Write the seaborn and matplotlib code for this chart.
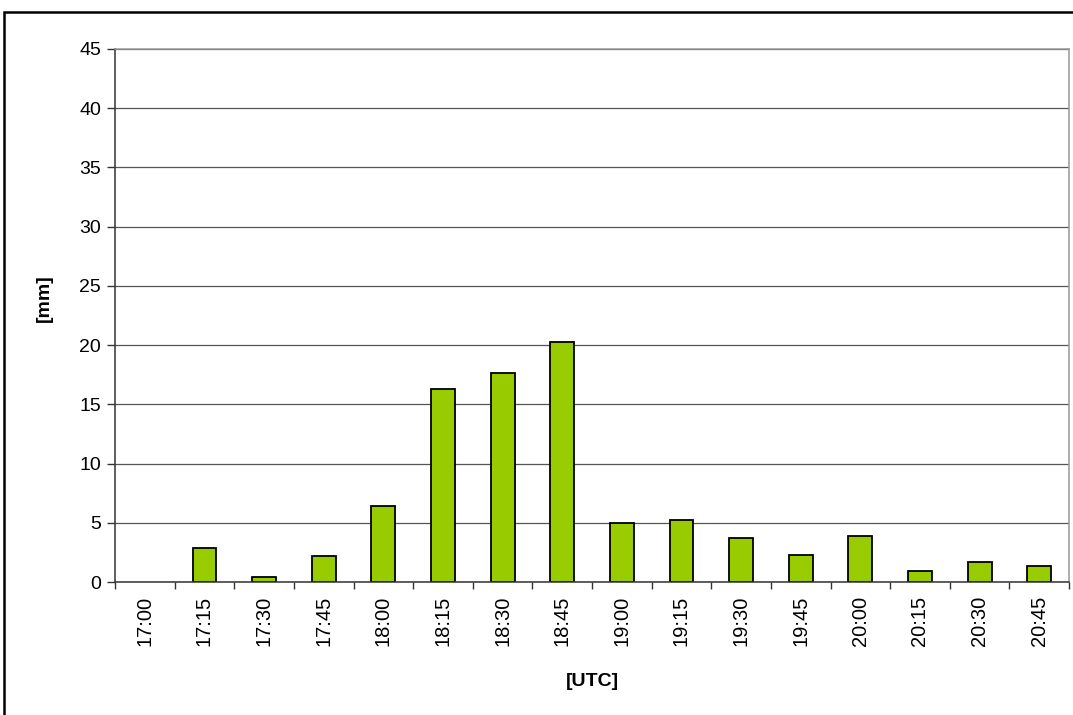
import numpy as np
import pandas as pd
import matplotlib
matplotlib.use("Agg")
import matplotlib.pyplot as plt
import seaborn as sns
from matplotlib.patches import Rectangle

times = ["17:00", "17:15", "17:30", "17:45", "18:00", "18:15", "18:30", "18:45",
         "19:00", "19:15", "19:30", "19:45", "20:00", "20:15", "20:30", "20:45"]
rain_mm = [0.0, 2.85, 0.45, 2.2, 6.4, 16.3, 17.65, 20.3,
           4.95, 5.25, 3.75, 2.25, 3.9, 0.9, 1.65, 1.35]
y_ticks = [0, 5, 10, 15, 20, 25, 30, 35, 40, 45]

sns.set_theme(style="white")
plt.rcParams['font.family'] = ['Liberation Sans', 'DejaVu Sans']
plt.rcParams['text.color'] = 'black'
plt.rcParams['xtick.color'] = 'black'
plt.rcParams['ytick.color'] = 'black'
plt.rcParams['axes.labelcolor'] = 'black'

df = pd.DataFrame({"time": times, "mm": rain_mm})

fig = plt.figure(figsize=(10.73, 7.15), dpi=100)
ax = fig.add_axes([0.1072, 0.186, 0.8891, 0.7455])

sns.barplot(data=df, x="time", y="mm", color="#99CC00", edgecolor="black",
            linewidth=1.3, width=0.4, saturation=1, ax=ax)
# no outline for empty intervals
for p in ax.patches:
    if p.get_height() == 0:
        p.set_linewidth(0)

ax.set_ylim(0, 45)
ax.set_xlim(-0.5, len(times) - 0.5)
ax.set_yticks(y_ticks)
ax.set_yticklabels([str(v) for v in y_ticks], fontsize=14)
ax.yaxis.grid(True, color="#555555", linewidth=0.9)
ax.set_axisbelow(True)

# ticks between the categories, labels under the bars
ax.set_xticks(np.arange(-0.5, len(times), 1))
ax.set_xticklabels([])
ax.set_xticks(range(len(times)), minor=True)
ax.set_xticklabels(times, minor=True, rotation=90, fontsize=14.5)
ax.tick_params(axis="x", which="major", direction="out", length=5, width=1, color="#333333", bottom=True)
ax.tick_params(axis="x", which="minor", length=0, pad=10, bottom=True)
ax.tick_params(axis="y", direction="out", length=6, width=1, color="#333333", left=True, pad=4)

for side in ["left", "bottom"]:
    ax.spines[side].set_color("#333333")
    ax.spines[side].set_linewidth(1.1)
for side in ["top", "right"]:
    ax.spines[side].set_color("#999999")
    ax.spines[side].set_linewidth(1.1)

ax.set_xlabel("[UTC]", fontsize=14, fontweight="bold")
ax.set_ylabel("[mm]", fontsize=14, fontweight="bold")
ax.xaxis.set_label_coords(0.5, -0.17)
ax.yaxis.set_label_coords(-0.065, 0.533)

# outer chart frame
fig.patches.append(Rectangle((4 / 1073, -0.05), 1.1, 0.05 + 1 - 12 / 715,
                             transform=fig.transFigure, fill=False,
                             edgecolor="black", linewidth=1.8))

fig.savefig("out.png", dpi=100)
